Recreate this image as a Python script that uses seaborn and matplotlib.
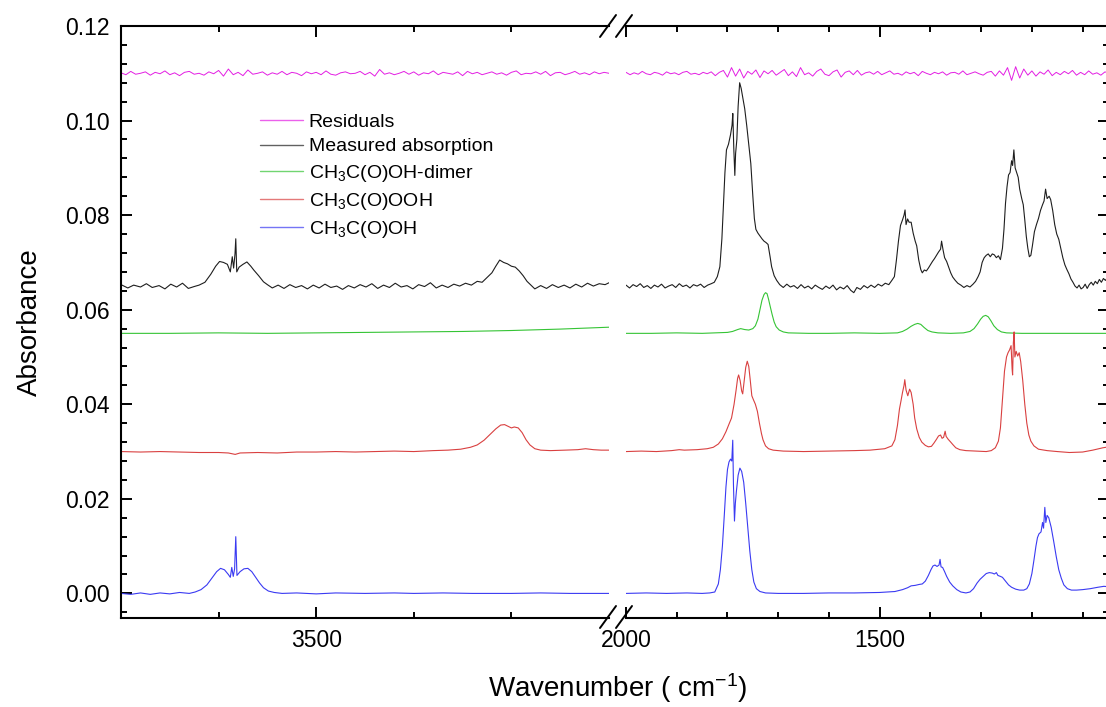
import numpy as np
import pandas as pd
import matplotlib
matplotlib.use('Agg')
import matplotlib.pyplot as plt
from matplotlib.lines import Line2D
from matplotlib.ticker import MultipleLocator, FixedLocator, FormatStrFormatter
import seaborn as sns

sns.set_style('ticks')
plt.rcParams['font.family'] = ['Liberation Sans', 'DejaVu Sans']
plt.rcParams['mathtext.default'] = 'regular'
for k in ['text.color', 'axes.labelcolor', 'xtick.color', 'ytick.color', 'axes.edgecolor']:
    plt.rcParams[k] = 'black'

# 各条谱线的叠加偏移 (Absorbance)
OFFSET = {'resid': 0.110, 'meas': 0.065, 'dimer': 0.055, 'peracid': 0.030, 'acid': 0.0}
COLORS = {'resid': '#e31ee3', 'meas': '#1e1e1e', 'dimer': '#35c435',
          'peracid': '#d94040', 'acid': '#3a3af2'}
LABELS = {'resid': 'Residuals', 'meas': 'Measured absorption',
          'dimer': 'CH$_3$C(O)OH-dimer', 'peracid': 'CH$_3$C(O)OOH',
          'acid': 'CH$_3$C(O)OH'}

# 数值单位: 1e-4 Absorbance, 相对于偏移量
# ---- 残差 (等间距采样) ----
resid_left = [1, -3, 4, -2, 0, 3, -4, 2, -1, 5, -3, 1, -5, 2, 4, -2, 0, -4, 3, -1,
              6, -6, 9, -3, 2, -5, 7, -2, 0, 3, -4, 1, -2, 4, -3, 2, 0, -5, 3, -1,
              2, -3, 5, -2, -4, 1, 3, -1, 0, 4, -3, 2, -6, 8, -2, 1, -3, 0, 4, -2,
              3, -4, 1, -1, 5, -3, 2, 0, -2, 3, -5, 4, -1, 2, -3, 0, 3, -2, 1, -4,
              2, 5, -3, 0, -1, 3, -2, 4, -5, 1, 2, -3, 0, 4, -2, 1, -3, 3, -1, 2, 0]
resid_right = [2, -3, 1, -2, 4, -1, -3, 2, 0, -4, 3, -1, 1, -3, 2, 4, -2, 0, -3, 2, -1,
               3, -5, 2, 6, -8, 12, -6, 9, -10, 4, -2, 7, -9, 5, -1,
               6, -4, 2, 8, -5, 3, -7, 12, -3, 1, -6, 4, 9, -2, -5, 3, 7, -8, 2, 5, -3, 6, -4, 1, 3,
               -2, 4, -3, 1, 5, -2, 0, -4, 3, -1, 2, -5, 4, 0, -3, 2, -1, 3, -4, 1, 2, -2, 5, -3,
               0, 3, -1, -4, 2,
               4, -6, 5, -4, 12, -15, 14, -10, 9,
               -4, 5, -6, 3, -2, 7, -5, 2, -3, 4, -1, 6, -4, 2, -3, 5, -2, 1, -4, 3, 0]

# ---- 实测吸收 (wavenumber, value) ----
meas_left = [(3700, 3), (3693, -4), (3687, 2), (3680, -2), (3674, 5), (3668, -3), (3661, 1),
             (3655, -6), (3649, 4), (3643, -2), (3637, 6), (3631, -5), (3625, -1), (3620, 2),
             (3614, 8), (3608, 25), (3603, 42), (3599, 52), (3595, 50), (3591, 46), (3588, 30),
             (3586, 62), (3584.6, 38), (3583.2, 68), (3582.4, 100), (3581.4, 30), (3579, 40),
             (3575, 46), (3571, 51), (3567, 42), (3564, 34), (3559, 22), (3554, 9), (3550, 3),
             (3545, -4), (3539, 2), (3533, -5), (3527, 3), (3521, -3), (3515, 1), (3509, -6),
             (3503, 2), (3497, -4), (3491, 4), (3485, -3), (3479, 0), (3473, -7), (3467, 1),
             (3461, -4), (3455, 3), (3449, -2), (3443, 5), (3437, -5), (3431, 2), (3425, -3),
             (3419, 6), (3413, -2), (3407, 1), (3401, -6), (3395, 3), (3389, -1), (3383, 7),
             (3377, -4), (3371, 2), (3365, -3), (3359, 4), (3353, 0), (3347, 6), (3341, 2),
             (3335, 10), (3330, 8), (3325, 18), (3320, 28), (3316, 42), (3312, 55), (3308, 50),
             (3304, 47), (3300, 42), (3296, 40), (3292, 32), (3288, 22), (3284, 10), (3280, 2),
             (3276, -6), (3270, 1), (3264, -5), (3258, 3), (3252, -3), (3246, 2), (3240, -4),
             (3234, 4), (3228, -2), (3222, 6), (3216, 0), (3210, 5), (3204, 3), (3200, 7)]
meas_right = [(2000, 2), (1993, -4), (1986, 3), (1979, -1), (1972, 5), (1965, -3), (1958, 1),
              (1951, -5), (1944, 2), (1937, -2), (1930, 4), (1923, -4), (1916, 0), (1909, 3),
              (1902, -3), (1895, 5), (1888, -1), (1881, 2), (1874, -4), (1867, 3), (1860, 0),
              (1853, 4), (1846, -3), (1839, 2), (1832, 5), (1826, 8), (1820, 20), (1815, 41),
              (1811, 100), (1808, 172), (1805, 240), (1802, 288), (1798, 300), (1794, 320),
              (1791, 340), (1789.5, 365), (1787.5, 290), (1785.5, 234), (1784, 280),
              (1781.5, 310), (1779, 380), (1776, 430), (1773, 418), (1770, 400), (1766, 375),
              (1762, 339), (1758, 300), (1754, 259), (1750, 190), (1747, 143), (1744, 120),
              (1740, 112), (1736, 106), (1732, 100), (1728, 95), (1724, 92), (1720, 88),
              (1716, 62), (1713, 41), (1708, 22), (1703, 12), (1697, 3), (1690, -3), (1683, 4),
              (1676, -2), (1669, 1), (1662, -5), (1655, 3), (1648, -4), (1641, 0), (1634, -6),
              (1627, 2), (1620, -3), (1613, -7), (1606, 0), (1599, -5), (1592, 2), (1585, -8),
              (1578, -2), (1571, -6), (1564, 1), (1557, -9), (1551, -14), (1545, -3),
              (1538, -7), (1531, 1), (1524, -4), (1517, 2), (1510, -3), (1503, 4), (1496, 0),
              (1489, 6), (1482, 3), (1476, 12), (1471, 20), (1467, 55), (1463, 95), (1459, 128),
              (1455, 140), (1452, 150), (1450, 161), (1448, 130), (1445, 142), (1442, 135),
              (1438, 135), (1434, 112), (1430, 95), (1427, 85), (1423, 55), (1419, 35),
              (1416, 28), (1412, 34), (1408, 32), (1404, 38), (1400, 45), (1396, 52),
              (1392, 58), (1388, 65), (1384, 72), (1380, 78), (1378, 95), (1375, 76),
              (1372, 60), (1368, 52), (1364, 40), (1360, 28), (1356, 19), (1351, 12), (1346, 6),
              (1340, 2), (1334, -3), (1328, 1), (1322, -2), (1316, 4), (1311, 10), (1306, 20),
              (1302, 30), (1298, 50), (1294, 60), (1290, 65), (1286, 68), (1282, 62), (1278, 68),
              (1274, 66), (1270, 60), (1266, 64), (1262, 56), (1258, 80), (1255, 120),
              (1252, 175), (1249, 210), (1246, 235), (1243, 240), (1240, 265), (1238, 255),
              (1235.5, 288), (1233, 250), (1230, 240), (1227, 230), (1224, 205), (1220, 185),
              (1217, 172), (1214, 140), (1211, 105), (1208, 80), (1205, 62), (1202, 65),
              (1199, 85), (1195, 115), (1191, 130), (1187, 143), (1183, 160), (1179, 172),
              (1176, 180), (1173, 205), (1170, 185), (1166, 190), (1163, 183), (1159, 160),
              (1155, 130), (1151, 110), (1147, 99), (1143, 80), (1139, 60), (1135, 45),
              (1131, 35), (1127, 26), (1123, 15), (1119, 8), (1115, 0), (1111, -4), (1107, 2),
              (1103, -6), (1099, -3), (1095, 4), (1091, -5), (1087, 3), (1083, 8), (1079, 2),
              (1075, 10), (1071, 5), (1067, 14), (1063, 8), (1059, 16), (1055, 12), (1051, 18),
              (1048, 14)]

# ---- CH3C(O)OH-dimer ----
dimer_left = [(3700, 0), (3650, 0), (3600, 1), (3550, 0), (3500, 1), (3450, 2), (3400, 3),
              (3350, 4), (3300, 6), (3250, 9), (3200, 13)]
dimer_right = [(2000, 0), (1950, 0), (1900, 1), (1850, 0), (1800, 2), (1790, 4), (1780, 8),
               (1774, 10), (1766, 8), (1758, 7), (1750, 10), (1745, 16), (1740, 30), (1736, 50),
               (1732, 70), (1728, 82), (1725, 86), (1722, 84), (1719, 72), (1716, 58),
               (1712, 40), (1708, 24), (1704, 14), (1698, 7), (1690, 3), (1680, 1), (1640, 0),
               (1600, 0), (1550, 1), (1500, 0), (1465, 1), (1455, 4), (1446, 9), (1438, 15),
               (1431, 19), (1425, 21), (1419, 19), (1412, 12), (1405, 6), (1397, 3), (1385, 1),
               (1360, 0), (1335, 1), (1322, 4), (1314, 10), (1307, 20), (1301, 30), (1296, 36),
               (1291, 38), (1286, 35), (1281, 27), (1275, 16), (1268, 8), (1260, 3), (1250, 1),
               (1220, 0), (1150, 0), (1100, 0), (1048, 0)]

# ---- CH3C(O)OOH ----
peracid_left = [(3700, 0), (3680, -1), (3660, 0), (3640, -1), (3620, -2), (3600, -2), (3590, -3),
                (3583, -6), (3578, -3), (3560, -2), (3540, -3), (3520, -1), (3500, -1), (3480, 0),
                (3460, -1), (3440, 0), (3420, 1), (3400, 0), (3380, 2), (3365, 3), (3352, 5),
                (3342, 9), (3335, 14), (3328, 24), (3322, 36), (3316, 48), (3311, 56), (3307, 57),
                (3303, 53), (3300, 50), (3297, 52), (3293, 50), (3289, 40), (3285, 25), (3281, 14),
                (3276, 6), (3270, 3), (3260, 2), (3245, 3), (3232, 4), (3224, 6), (3216, 4),
                (3208, 3), (3200, 3)]
peracid_right = [(2000, 0), (1970, 1), (1940, 0), (1910, 2), (1895, 4), (1885, 3), (1860, 4),
                 (1840, 6), (1828, 9), (1818, 16), (1810, 27), (1803, 42), (1797, 58), (1792, 71),
                 (1787, 100), (1783, 130), (1780, 155), (1778, 162), (1775, 150), (1772, 128),
                 (1770, 122), (1767, 150), (1764, 178), (1761, 191), (1758, 180), (1755, 150),
                 (1752, 118), (1749, 110), (1745, 100), (1741, 85), (1737, 60), (1733, 38),
                 (1730, 25), (1725, 12), (1719, 6), (1710, 3), (1690, 1), (1650, 0), (1600, 1),
                 (1550, 2), (1519, 3), (1490, 6), (1476, 12), (1470, 25), (1465, 55), (1461, 90),
                 (1458, 107), (1455, 125), (1452, 140), (1450.5, 152), (1448, 130), (1444.6, 118),
                 (1441, 132), (1438, 125), (1434, 100), (1431, 71), (1427, 48), (1422, 30),
                 (1417, 20), (1410, 13), (1404, 10), (1398, 11), (1393, 18), (1388, 26), (1384, 33),
                 (1380, 35), (1377, 28), (1374, 30), (1371, 43), (1369, 32), (1365, 26), (1360, 20),
                 (1356, 15), (1350, 8), (1342, 4), (1330, 2), (1310, 1), (1290, 0), (1280, 2),
                 (1272, 8), (1266, 22), (1262, 50), (1258, 110), (1254, 170), (1250, 200),
                 (1247, 209), (1244, 215), (1241, 224), (1239, 175), (1238, 162), (1236.5, 230),
                 (1235, 253), (1233.5, 200), (1231, 212), (1228, 202), (1225, 209), (1222, 190),
                 (1218, 150), (1214, 100), (1210, 60), (1206, 35), (1202, 22), (1196, 12),
                 (1187, 5), (1170, 2), (1150, 0), (1126, -2), (1100, -1), (1080, 3), (1060, 8),
                 (1048, 10)]

# ---- CH3C(O)OH ----
acid_left = [(3700, 0), (3690, -2), (3680, 1), (3670, -2), (3660, 1), (3650, -1), (3640, 2),
             (3630, 0), (3624, 3), (3618, 8), (3612, 18), (3607, 32), (3602, 46), (3598, 53),
             (3594, 50), (3590, 40), (3588, 34), (3586.5, 55), (3585, 36), (3583.6, 52),
             (3582.4, 120), (3581.2, 38), (3578, 46), (3574, 52), (3570, 53), (3566, 46),
             (3562, 34), (3558, 22), (3554, 12), (3549, 5), (3543, 2), (3535, 0), (3520, 1),
             (3500, -1), (3480, 1), (3450, 0), (3420, 1), (3400, 0), (3370, 1), (3340, 0),
             (3300, 0), (3270, 1), (3240, 0), (3200, 0)]
acid_right = [(2000, 0), (1960, 1), (1920, 0), (1880, 1), (1850, 0), (1835, 1), (1825, 3),
              (1818, 20), (1814, 50), (1810, 100), (1806, 170), (1803, 225), (1800, 262),
              (1797, 278), (1794, 284), (1791.5, 280), (1789.6, 324), (1788.2, 230),
              (1786.2, 153), (1784.5, 190), (1782.5, 215), (1779, 250), (1775.5, 265),
              (1772, 258), (1768, 235), (1764, 190), (1760, 140), (1756, 90), (1752, 50),
              (1748, 24), (1743, 10), (1736, 4), (1725, 1), (1700, 0), (1650, 0), (1600, 1),
              (1550, 1), (1500, 2), (1470, 4), (1455, 8), (1445, 12), (1438, 16), (1430, 17),
              (1422, 19), (1416, 20), (1410, 26), (1404, 38), (1399, 50), (1395, 58), (1391, 60),
              (1387, 57), (1383, 60), (1381, 72), (1379, 56), (1376, 55), (1372, 46), (1368, 36),
              (1362, 24), (1356, 16), (1348, 8), (1340, 3), (1330, 1), (1322, 3), (1315, 10),
              (1308, 22), (1302, 30), (1296, 36), (1290, 42), (1284, 44), (1278, 43), (1274, 41),
              (1270, 44), (1267, 38), (1262, 36), (1258, 34), (1252, 26), (1246, 18), (1240, 13),
              (1232, 9), (1224, 7), (1216, 7), (1210, 10), (1205, 20), (1200, 42), (1196, 70),
              (1192, 100), (1189, 118), (1186, 126), (1182, 130), (1179, 150), (1177, 138),
              (1174.5, 182), (1172.5, 150), (1170, 165), (1166.7, 160), (1162, 140), (1157, 110),
              (1152, 78), (1147, 50), (1142, 32), (1137, 18), (1130, 10), (1122, 7), (1112, 7),
              (1100, 8), (1085, 10), (1070, 13), (1058, 15), (1048, 14)]

LEFT_LIM = (3700, 3200)
RIGHT_LIM = (2000, 1048)


def to_df(pairs, key):
    df = pd.DataFrame(pairs, columns=['wn', 'val'])
    df['absorbance'] = OFFSET[key] + df['val'] * 1e-4
    return df


def resid_df(vals, lim):
    df = pd.DataFrame({'wn': np.linspace(lim[0], lim[1], len(vals)), 'val': vals})
    df['absorbance'] = OFFSET['resid'] + df['val'] * 1e-4
    return df


W, H = 1106, 707
fig = plt.figure(figsize=(W / 100, H / 100), dpi=100)
ax1 = fig.add_axes([121 / W, (H - 618) / H, (609 - 121) / W, (618 - 26) / H])
ax2 = fig.add_axes([626 / W, (H - 618) / H, (1109 - 626) / W, (618 - 26) / H])

panels = [
    (ax1, LEFT_LIM, resid_left, {'meas': meas_left, 'dimer': dimer_left,
                                 'peracid': peracid_left, 'acid': acid_left}),
    (ax2, RIGHT_LIM, resid_right, {'meas': meas_right, 'dimer': dimer_right,
                                   'peracid': peracid_right, 'acid': acid_right}),
]

for ax, lim, res, traces in panels:
    sns.lineplot(data=resid_df(res, lim), x='wn', y='absorbance', ax=ax,
                 color=COLORS['resid'], lw=0.7, estimator=None, sort=False)
    for key, pairs in traces.items():
        sns.lineplot(data=to_df(pairs, key), x='wn', y='absorbance', ax=ax,
                     color=COLORS[key], lw=0.8, estimator=None, sort=False)
    ax.set_xlim(*lim)
    ax.set_ylim(-0.0052, 0.12)
    ax.set_xlabel('')
    ax.set_ylabel('')
    ax.yaxis.set_major_locator(MultipleLocator(0.02))
    ax.yaxis.set_minor_locator(MultipleLocator(0.004))
    ax.yaxis.set_major_formatter(FormatStrFormatter('%.2f'))
    for sp in ax.spines.values():
        sp.set_linewidth(1.5)
    ax.tick_params(which='both', direction='in', width=1.4, labelsize=16.5, pad=8,
                   top=True, bottom=True)
    ax.tick_params(which='major', length=8)
    ax.tick_params(which='minor', length=4.5)

ax1.xaxis.set_major_locator(FixedLocator([3500]))
ax1.xaxis.set_minor_locator(FixedLocator([3600, 3400, 3300]))
ax2.xaxis.set_major_locator(FixedLocator([2000, 1500]))
ax2.xaxis.set_minor_locator(FixedLocator([1900, 1800, 1700, 1600, 1400, 1300, 1200, 1100]))

ax1.spines['right'].set_visible(False)
ax1.tick_params(which='both', left=True, right=False)
ax2.spines['left'].set_visible(False)
ax2.tick_params(which='both', left=False, right=True, labelleft=False, labelright=False)

# 断轴标记
for xp in (608, 624):
    for yp in (26, 617):
        fig.add_artist(Line2D([(xp - 8) / W, (xp + 8) / W],
                              [(H - yp - 11) / H, (H - yp + 11) / H],
                              transform=fig.transFigure, color='black', lw=1.4))

# 图例
order = ['resid', 'meas', 'dimer', 'peracid', 'acid']
handles = [Line2D([], [], color=COLORS[k], lw=1.0, alpha=0.7) for k in order]
ax1.legend(handles, [LABELS[k] for k in order], loc='upper left',
           bbox_to_anchor=(260 / W, 1 - 113 / H), bbox_transform=fig.transFigure,
           frameon=False, fontsize=14, borderpad=0, borderaxespad=0,
           handlelength=2.2, handletextpad=0.3, labelspacing=0.37)

fig.text(30 / W, 1 - 322 / H, 'Absorbance', rotation=90, ha='center', va='center', fontsize=20)
fig.text(618 / W, 1 - 688 / H, 'Wavenumber ( cm$^{-1}$)', ha='center', va='center', fontsize=20)

fig.savefig('out.png', dpi=100)
